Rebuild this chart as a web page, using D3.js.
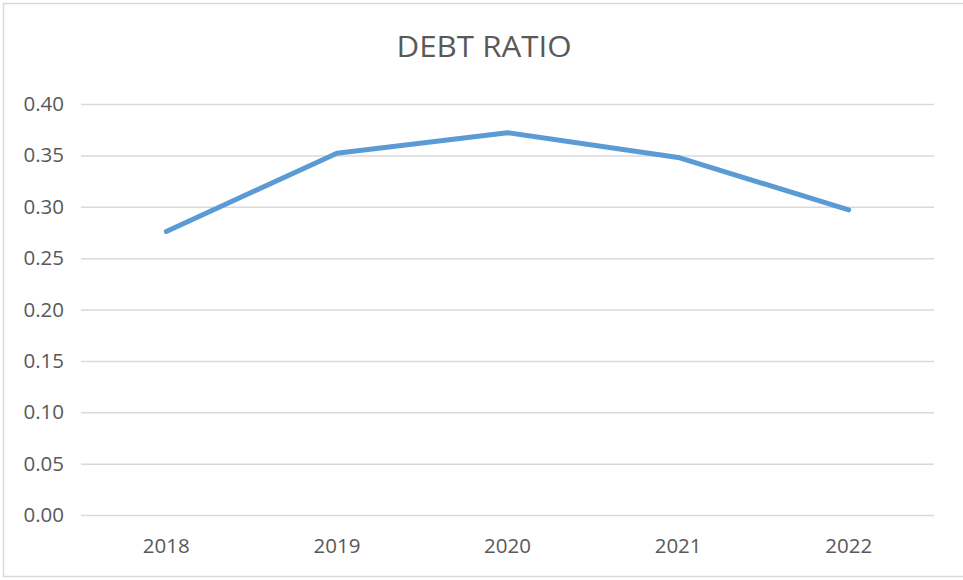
<!DOCTYPE html>
<html>
<head>
<meta charset="utf-8">
<script src="https://cdn.jsdelivr.net/npm/d3@7"></script>
<style>
  body { margin: 0; background: #fff; }
  text { font-family: "Open Sans", sans-serif; fill: #595959; }
</style>
</head>
<body>
<div id="chart"></div>
<script>
// data
var years = ["2018", "2019", "2020", "2021", "2022"];
var debtRatio = [0.276, 0.352, 0.372, 0.348, 0.297];
var yTicks = [0, 0.05, 0.10, 0.15, 0.20, 0.25, 0.30, 0.35, 0.40];

var W = 963, H = 580;
var margin = {left: 81, right: 29, top: 104, bottom: 65};
var width = W - margin.left - margin.right,
    height = H - margin.top - margin.bottom;

var svg = d3.select("#chart").append("svg")
    .attr("width", W)
    .attr("height", H);

// outer frame
svg.append("rect")
    .attr("x", 3.5).attr("y", 3.5)
    .attr("width", W + 10).attr("height", H - 7)
    .attr("fill", "#fff")
    .attr("stroke", "#d9d9d9")
    .attr("stroke-width", 1.5);

svg.append("text")
    .attr("x", 484).attr("y", 57)
    .attr("text-anchor", "middle")
    .attr("font-size", 30)
    .attr("textLength", 175)
    .attr("lengthAdjust", "spacingAndGlyphs")
    .text("DEBT RATIO");

var g = svg.append("g")
    .attr("transform", "translate(" + margin.left + "," + margin.top + ")");

var x = d3.scaleBand().domain(years).range([0, width]);
var y = d3.scaleLinear().domain([0, 0.40]).range([height, 0]);

// gridlines
g.append("g")
    .call(d3.axisLeft(y).tickValues(yTicks).tickSize(-width).tickFormat(""))
    .call(function (s) {
        s.select(".domain").remove();
        s.selectAll("line").attr("stroke", "#d9d9d9").attr("stroke-width", 1.5);
    });

// y labels
g.append("g")
    .call(d3.axisLeft(y).tickValues(yTicks).tickSize(0).tickPadding(17)
        .tickFormat(d3.format(".2f")))
    .call(function (s) {
        s.select(".domain").remove();
        s.selectAll("text").attr("font-size", 20.5).attr("fill", "#595959")
            .style("font-family", "'Open Sans', sans-serif");
    });

// x labels
g.append("g")
    .attr("transform", "translate(0," + height + ")")
    .call(d3.axisBottom(x).tickSize(0).tickPadding(23))
    .call(function (s) {
        s.select(".domain").remove();
        s.selectAll("text").attr("font-size", 20.5).attr("fill", "#595959")
            .style("font-family", "'Open Sans', sans-serif");
    });

var line = d3.line()
    .x(function (d, i) { return x(years[i]) + x.bandwidth() / 2; })
    .y(function (d) { return y(d); });

g.append("path")
    .datum(debtRatio)
    .attr("d", line)
    .attr("fill", "none")
    .attr("stroke", "#5b9bd5")
    .attr("stroke-width", 5)
    .attr("stroke-linecap", "round")
    .attr("stroke-linejoin", "round");
</script>
</body>
</html>
